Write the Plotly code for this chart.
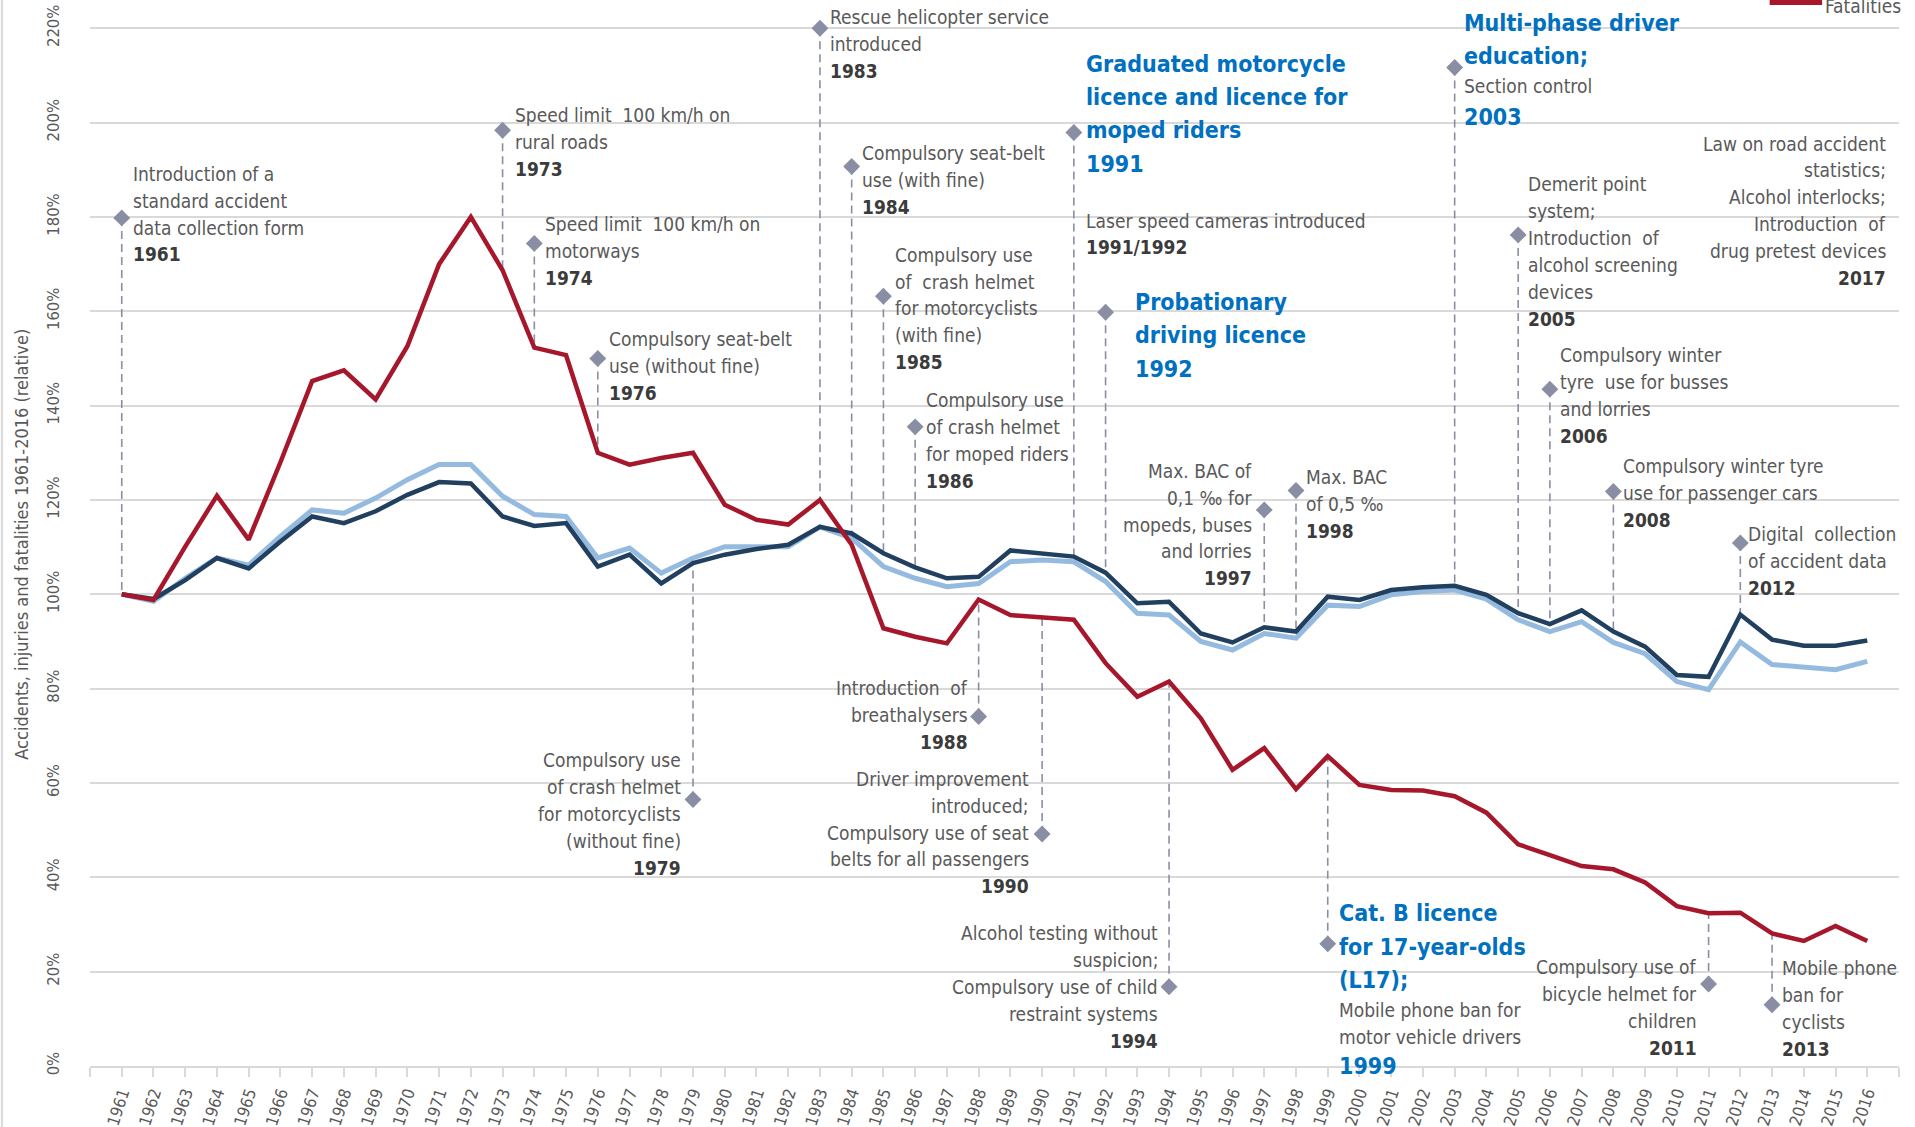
import plotly.graph_objects as go

# ---------------- data ----------------
years = list(range(1961, 2017))

accidents = [100, 99.0, 103, 107.7, 105.5, 111.2, 116.5, 115.1, 117.6, 121.1,
             123.8, 123.5, 116.5, 114.5, 115.1, 105.9, 108.4, 102.3, 106.6, 108.4,
             109.6, 110.5, 114.3, 112.9, 108.7, 105.7, 103.4, 103.7, 109.3, 108.7,
             108.0, 104.6, 98.1, 98.4, 91.7, 89.8, 93.0, 92.1, 99.5, 98.8,
             100.9, 101.5, 101.8, 99.9, 96.0, 93.7, 96.6, 92.1, 88.9, 82.9,
             82.5, 95.7, 90.4, 89.1, 89.1, 90.2]

injuries = [100, 98.5, 103.4, 107.7, 106.2, 112.3, 117.9, 117.2, 120.4, 124.3,
            127.5, 127.5, 120.8, 116.9, 116.5, 107.7, 109.8, 104.5, 107.7, 110.1,
            110.1, 110.1, 114.3, 111.9, 105.9, 103.4, 101.6, 102.3, 106.9, 107.3,
            106.9, 102.7, 96.0, 95.6, 90.0, 88.2, 91.7, 90.7, 97.7, 97.4,
            99.9, 100.6, 100.9, 99.0, 94.6, 92.1, 94.2, 89.8, 87.4, 81.5,
            79.8, 89.9, 85.1, 84.6, 84.0, 85.8]

fatalities = [100, 98.8, 110.1, 120.9, 111.6, 128.0, 145.2, 147.5, 141.3, 152.6,
              170.0, 180.0, 168.7, 152.3, 150.7, 130.0, 127.5, 128.9, 130.0, 119.0,
              115.8, 114.8, 120.0, 110.5, 92.8, 91.0, 89.6, 98.9, 95.6, 95.1,
              94.6, 85.4, 78.3, 81.5, 73.7, 62.8, 67.4, 58.7, 65.7, 59.6,
              58.5, 58.4, 57.2, 53.7, 47.0, 44.7, 42.4, 41.7, 38.9, 33.9,
              32.4, 32.5, 28.1, 26.5, 29.7, 26.5]

series_names = ["Accidents", "Injuries", "Fatalities"]

event_years = [1961, 1973, 1974, 1976, 1979, 1983, 1984, 1985, 1986, 1988, 1990, 1991,
               1992, 1994, 1997, 1998, 1999, 2003, 2005, 2006, 2008, 2011, 2012, 2013]
event_marker_values = [179.8, 198.4, 174.4, 150.0, 56.5, 220.0, 190.7, 163.2, 135.5, 74.1, 49.2, 197.9,
                       159.8, 16.8, 117.9, 122.0, 25.9, 211.7, 176.2, 143.5, 121.8, 17.4, 110.9, 13.0]

event_texts = [
    "Introduction of a|standard accident|data collection form",
    "Speed limit  100 km/h on|rural roads",
    "Speed limit  100 km/h on|motorways",
    "Compulsory seat-belt|use (without fine)",
    "Compulsory use|of crash helmet|for motorcyclists|(without fine)",
    "Rescue helicopter service|introduced",
    "Compulsory seat-belt|use (with fine)",
    "Compulsory use|of  crash helmet|for motorcyclists|(with fine)",
    "Compulsory use|of crash helmet|for moped riders",
    "Introduction  of|breathalysers",
    "Driver improvement|introduced;|Compulsory use of seat|belts for all passengers",
    "Graduated motorcycle|licence and licence for|moped riders",
    "Probationary|driving licence",
    "Alcohol testing without|suspicion;|Compulsory use of child|restraint systems",
    "Max. BAC of|0,1 ‰ for|mopeds, buses|and lorries",
    "Max. BAC|of 0,5 ‰",
    "Cat. B licence|for 17-year-olds|(L17);",
    "Multi-phase driver|education;",
    "Demerit point|system;|Introduction  of|alcohol screening|devices",
    "Compulsory winter|tyre  use for busses|and lorries",
    "Compulsory winter tyre|use for passenger cars",
    "Compulsory use of|bicycle helmet for|children",
    "Digital  collection|of accident data",
    "Mobile phone|ban for|cyclists",
]

extra_texts = {
    1991: ("Laser speed cameras introduced", "1991/1992"),
    1999: ("Mobile phone ban for|motor vehicle drivers", None),
    2003: ("Section control", None),
}
future_text = "Law on road accident|statistics;|Alcohol interlocks;|Introduction  of|drug pretest devices"
future_year = "2017"

highlight_years = [1991, 1992, 1999, 2003]

# ---------------- styling / placement ----------------
FONT = "Liberation Sans Narrow, Arial Narrow, DejaVu Sans Condensed, Liberation Sans, sans-serif"
GRAY = "#595959"
DARK = "#3b3b3b"
BLUE = "#0070C0"
C_ACC = "#213F5F"
C_INJ = "#95BADF"
C_FAT = "#A6172C"
C_EVT = "#8A8EA4"
FS = 19
FSB = 23
LH = 26.9
LHB = 33.3

# (center y of text block in %, side, xshift)
label_pos = {
    1961: (180.6, "r", 9), 1973: (195.9, "r", 10), 1974: (172.8, "r", 9), 1976: (148.4, "r", 9),
    1979: (53.4, "l", 10), 1983: (216.6, "r", 8), 1984: (187.8, "r", 8), 1985: (160.6, "r", 10),
    1986: (132.6, "r", 9), 1988: (74.4, "l", 9), 1990: (49.5, "l", 11), 1991: (201.9, "r", 10),
    1992: (154.9, "r", 27), 1994: (16.8, "l", 9), 1997: (114.8, "l", 10), 1998: (119.2, "r", 8),
    1999: (25.3, "r", 9), 2003: (217.7, "r", 7), 2005: (172.7, "r", 8), 2006: (142.2, "r", 8),
    2008: (121.5, "r", 8), 2011: (12.4, "l", 10), 2012: (107.0, "r", 6), 2013: (12.2, "r", 8),
}
extra_pos = {1991: (176.4, 10), 1999: (9.1, 9), 2003: (207.8, 7)}
blue_year_pos = {1999: 0.0, 2003: 201.3}

fig = go.Figure()

# event dashed connectors
val = {s: dict(zip(years, arr)) for s, arr in zip(series_names, [accidents, injuries, fatalities])}
for ey, my in zip(event_years, event_marker_values):
    vals = [val[s][ey] for s in series_names]
    end = max(vals) if my > max(vals) else min(vals)
    fig.add_trace(go.Scatter(x=[ey, ey], y=[my, end], mode="lines",
                             line=dict(color=C_EVT, width=1.6, dash="8px,5px"),
                             hoverinfo="skip", showlegend=False))

fig.add_trace(go.Scatter(x=years, y=injuries, mode="lines", name=series_names[1],
                         line=dict(color=C_INJ, width=5), showlegend=False))
fig.add_trace(go.Scatter(x=years, y=accidents, mode="lines", name=series_names[0],
                         line=dict(color=C_ACC, width=4.5), showlegend=False))
fig.add_trace(go.Scatter(x=years, y=fatalities, mode="lines", name=series_names[2],
                         line=dict(color=C_FAT, width=4.5), showlegend=False))

fig.add_trace(go.Scatter(x=event_years, y=event_marker_values, mode="markers",
                         marker=dict(symbol="diamond", size=13, color=C_EVT),
                         hoverinfo="skip", showlegend=False))

ann = []


def add_block(x, cy, lines, side, xshift, lh):
    """lines: list of (text, kind) with kind 'g' gray, 'y' bold dark, 'b' bold blue"""
    n = len(lines)
    for i, (t, kind) in enumerate(lines):
        if kind == "g":
            txt, size, color = t, FS, GRAY
        elif kind == "y":
            txt, size, color = "<b>" + t + "</b>", FS, DARK
        else:
            txt, size, color = "<b>" + t + "</b>", FSB, BLUE
        ann.append(dict(x=x, y=cy, xref="x", yref="y", text=txt, showarrow=False,
                        xanchor="left" if side == "r" else "right", yanchor="middle",
                        xshift=xshift if side == "r" else -xshift,
                        yshift=-(i - (n - 1) / 2.0) * lh,
                        font=dict(family=FONT, size=size, color=color)))


for ey, txt in zip(event_years, event_texts):
    cy, side, xs = label_pos[ey]
    parts = txt.split("|")
    if ey in highlight_years:
        if ey in (1991, 1992):
            add_block(ey, cy, [(p, "b") for p in parts] + [(str(ey), "b")], side, xs, LHB)
        else:
            add_block(ey, cy, [(p, "b") for p in parts], side, xs, LHB)
            add_block(ey, blue_year_pos[ey], [(str(ey), "b")], side, xs, LHB)
    else:
        add_block(ey, cy, [(p, "g") for p in parts] + [(str(ey), "y")], side, xs, LH)

for ey, (t1, t2) in extra_texts.items():
    cy, xs = extra_pos[ey]
    lines = [(p, "g") for p in t1.split("|")]
    if t2 is not None:
        lines.append((t2, "y"))
    add_block(ey, cy, lines, "r", xs, LH)

add_block(2016.65, 181.3, [(p, "g") for p in future_text.split("|")] + [(future_year, "y")], "l", 0, LH)

# y-axis title
ann.append(dict(x=-0.0376, y=0.49, xref="paper", yref="paper", showarrow=False,
                text="Accidents, injuries and fatalities 1961-2016 (relative)", textangle=-90,
                font=dict(family=FONT, size=18, color=GRAY), xanchor="center", yanchor="middle"))
# legend (partially visible)
ann.append(dict(x=0.9578, y=0.9944, xref="paper", yref="paper", showarrow=False,
                text="Fatalities", xanchor="left", yanchor="middle",
                font=dict(family=FONT, size=19, color=GRAY)))

shapes = [
    dict(type="line", xref="paper", yref="paper", x0=0.9285, x1=0.9575, y0=0.9985, y1=0.9985,
         line=dict(color=C_FAT, width=7)),
    dict(type="line", xref="paper", yref="paper", x0=-0.0487, x1=-0.0487, y0=-0.06, y1=1.0,
         line=dict(color="#D9D9D9", width=2)),
]

tickvals = list(range(1960, 2018))
ticktext = [""] + [str(y) for y in years] + [""]

fig.update_layout(
    width=1915, height=1127,
    margin=dict(l=90, r=16, t=0, b=61),
    plot_bgcolor="white", paper_bgcolor="white",
    annotations=ann, shapes=shapes,
    xaxis=dict(range=[1960, 2017], tickvals=tickvals, ticktext=ticktext, tickangle=-72,
               ticks="outside", ticklen=9, tickcolor="#D9D9D9", tickwidth=1.5,
               showline=True, linecolor="#D9D9D9", linewidth=2, showgrid=False, zeroline=False,
               tickfont=dict(family=FONT, size=16.5, color=GRAY)),
    yaxis=dict(range=[0, 226], tickvals=list(range(0, 221, 20)),
               ticktext=["%d%%" % v for v in range(0, 221, 20)], tickangle=-90,
               showgrid=True, gridcolor="#D9D9D9", gridwidth=2, zeroline=False, showline=False,
               ticklabelstandoff=27,
               tickfont=dict(family=FONT, size=16.5, color=GRAY)),
    showlegend=False,
)

fig.write_html("out.html", config={"displayModeBar": False},
               post_script="document.body.style.margin='0';document.body.style.overflow='hidden';")
